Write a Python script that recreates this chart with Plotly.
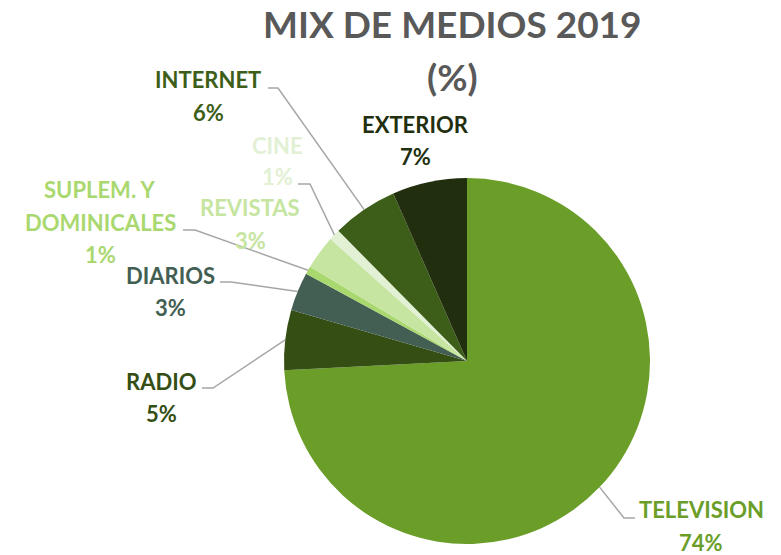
import math

import plotly.graph_objects as go

# datos
medios = ["TELEVISION", "RADIO", "DIARIOS", "SUPLEM. Y DOMINICALES",
          "REVISTAS", "CINE", "INTERNET", "EXTERIOR"]
valores = [74.2, 5.3, 3.4, 0.7, 3.0, 1.0, 5.8, 6.6]
colores = ["#6a9e28", "#344e13", "#435e52", "#a9d86e",
           "#c6e5a0", "#e2f0d4", "#3d5e18", "#222f0e"]

W, H = 781, 555
CX, CY, R = 467, 361, 183  # centro y radio del pie en px

# posicion de etiquetas: (lineas de texto, x, y primera linea, codo de la linea guia)
etiquetas = {
    "TELEVISION": (["TELEVISION"], 701, 510, (635, 624, 518)),
    "RADIO": (["RADIO"], 161, 381, (202, 213, 388)),
    "DIARIOS": (["DIARIOS"], 170, 275, (220, 231, 282)),
    "SUPLEM. Y DOMINICALES": (["SUPLEM. Y", "DOMINICALES"], 100, 190, (183, 195, 230)),
    "REVISTAS": (["REVISTAS"], 250, 208, None),
    "CINE": (["CINE"], 277, 145, (298, 310, 184)),
    "INTERNET": (["INTERNET"], 208, 80, (268, 278, 88)),
    "EXTERIOR": (["EXTERIOR"], 415, 124, None),
}


def px_x(x):
    return x / W


def px_y(y):
    return (H - y) / H


fig = go.Figure(
    go.Pie(
        labels=medios,
        values=valores,
        marker=dict(colors=colores, line=dict(width=0)),
        sort=False,
        direction="clockwise",
        rotation=0,
        textinfo="none",
        hoverinfo="label+percent",
        domain=dict(x=[px_x(CX - R), px_x(CX + R)], y=[px_y(CY + R), px_y(CY - R)]),
    )
)

total = sum(valores)
acum = 0
annotations = []
shapes = []
for medio, valor, color in zip(medios, valores, colores):
    lineas, tx, ty, codo = etiquetas[medio]
    pct = round(valor / total * 100)
    texto = lineas + [f"{pct}%"]
    for i, t in enumerate(texto):
        annotations.append(
            dict(
                text=f"<b>{t}</b>",
                x=px_x(tx),
                y=px_y(ty + i * 32),
                xref="paper",
                yref="paper",
                showarrow=False,
                xanchor="center",
                yanchor="middle",
                font=dict(family="Lato", size=22, color=color),
            )
        )
    ang = (acum + valor / 2) / total * 2 * math.pi
    acum += valor
    if codo is None:
        continue
    ex = CX + R * math.sin(ang)
    ey = CY - R * math.cos(ang)
    x0, x1, yc = codo
    shapes.append(
        dict(
            type="path",
            xref="paper",
            yref="paper",
            path=f"M {px_x(x0)} {px_y(yc)} L {px_x(x1)} {px_y(yc)} L {px_x(ex)} {px_y(ey)}",
            line=dict(color="#a6a6a6", width=1.5),
        )
    )

for texto, y in [("MIX DE MEDIOS 2019", 23), ("(%)", 76)]:
    annotations.append(
        dict(
            text=f"<b>{texto}</b>",
            x=px_x(453),
            y=px_y(y),
            xref="paper",
            yref="paper",
            xanchor="center",
            yanchor="middle",
            showarrow=False,
            font=dict(family="Lato", size=37, color="#595959"),
        )
    )

fig.update_layout(
    width=W,
    height=H,
    margin=dict(l=0, r=0, t=0, b=0),
    paper_bgcolor="white",
    plot_bgcolor="white",
    showlegend=False,
    annotations=annotations,
    shapes=shapes,
)

fig.write_html(
    "out.html",
    config={"displayModeBar": False},
    post_script="document.body.style.margin = '0';",
)
